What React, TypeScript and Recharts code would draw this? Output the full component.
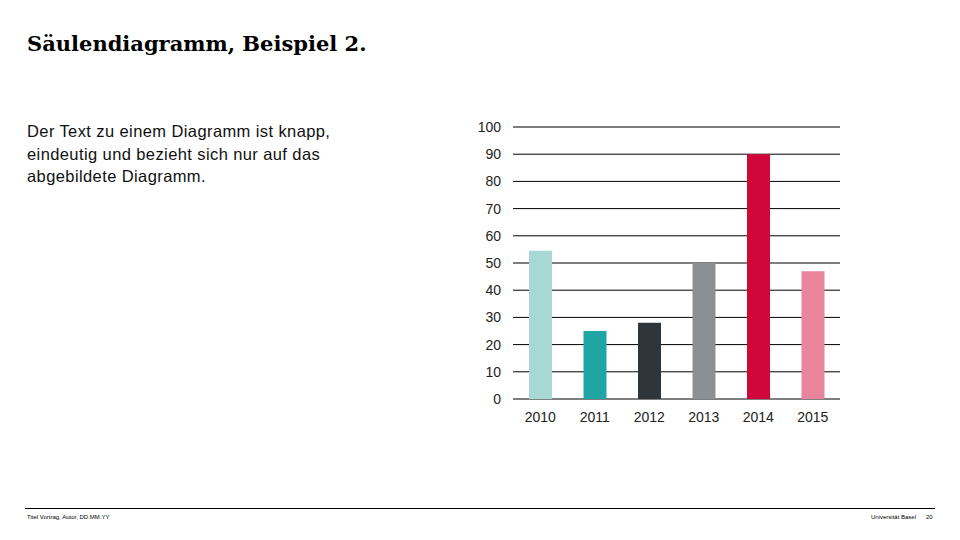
import { Bar, BarChart, CartesianGrid, Cell, XAxis, YAxis } from "recharts";

const years = ["2010", "2011", "2012", "2013", "2014", "2015"];
const values = [54.5, 25, 28, 50, 90, 47];
const barColors = ["#a8d8d3", "#1fa5a3", "#2e353b", "#8c9094", "#d0073b", "#e8849c"];
const yTicks = [0, 10, 20, 30, 40, 50, 60, 70, 80, 90, 100];

const data = years.map((year, i) => ({ year, value: values[i] }));

const sans = "'Liberation Sans', Arial, sans-serif";

export default function App() {
  return (
    <div style={{ position: "relative", width: 960, height: 540, margin: -8, background: "#fff", overflow: "hidden" }}>
      <div
        style={{
          position: "absolute",
          left: 27,
          top: 31,
          fontFamily: "'DejaVu Serif', 'Liberation Serif', serif",
          fontWeight: "bold",
          fontSize: 21,
          color: "#000",
        }}
      >
        Säulendiagramm, Beispiel 2.
      </div>
      <div
        style={{
          position: "absolute",
          left: 27,
          top: 120,
          width: 350,
          fontFamily: sans,
          fontSize: 16.5,
          letterSpacing: 0.4,
          lineHeight: "22.5px",
          color: "#111",
        }}
      >
        Der Text zu einem Diagramm ist knapp, eindeutig und bezieht sich nur auf das abgebildete Diagramm.
      </div>

      <div style={{ position: "absolute", left: 440, top: 100 }}>
        <BarChart width={420} height={340} data={data} margin={{ top: 27, right: 20, left: 0, bottom: 11 }} barSize={23}>
          <CartesianGrid vertical={false} stroke="#000" strokeWidth={1} />
          <XAxis
            dataKey="year"
            axisLine={false}
            tickLine={false}
            tickSize={0}
            tickMargin={13}
            height={30}
            tick={{ fill: "#222", fontSize: 14, fontFamily: sans }}
          />
          <YAxis
            domain={[0, 100]}
            ticks={yTicks}
            axisLine={false}
            tickLine={false}
            tickSize={0}
            tickMargin={12}
            width={73}
            interval={0}
            tick={{ fill: "#222", fontSize: 14, fontFamily: sans }}
          />
          <Bar dataKey="value" isAnimationActive={false}>
            {data.map((d, i) => (
              <Cell key={d.year} fill={barColors[i]} />
            ))}
          </Bar>
        </BarChart>
      </div>

      <div style={{ position: "absolute", left: 25, top: 508, width: 910, height: 1, background: "#000" }} />
      <div style={{ position: "absolute", left: 27, top: 514, fontFamily: sans, fontSize: 6, color: "#000" }}>
        Titel Vortrag, Autor, DD.MM.YY
      </div>
      <div style={{ position: "absolute", left: 871, top: 514, fontFamily: sans, fontSize: 6, color: "#000" }}>
        Universität Basel
      </div>
      <div style={{ position: "absolute", left: 926, top: 514, fontFamily: sans, fontSize: 6, color: "#000" }}>
        20
      </div>
    </div>
  );
}
